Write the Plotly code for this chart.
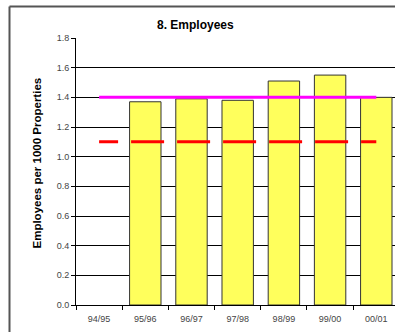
import plotly.graph_objects as go

categories = ["94/95", "95/96", "96/97", "97/98", "98/99", "99/00", "00/01"]
employees = [None, 1.37, 1.39, 1.38, 1.51, 1.55, 1.40]
target_line = [1.40] * 7
average_line = [1.10] * 7
y_ticks = [0.0, 0.2, 0.4, 0.6, 0.8, 1.0, 1.2, 1.4, 1.6, 1.8]

FONT = "Arial, Liberation Sans, sans-serif"

fig = go.Figure()
fig.add_trace(go.Bar(
    x=categories, y=employees,
    marker=dict(color="#FFFF5C", line=dict(color="#333333", width=1)),
    width=0.68, showlegend=False,
))
fig.add_trace(go.Scatter(
    x=categories, y=target_line, mode="lines",
    line=dict(color="#FF00FF", width=3), showlegend=False,
))
fig.add_trace(go.Scatter(
    x=categories, y=average_line, mode="lines",
    line=dict(color="#FF0000", width=3,
              dash="19px,13px,33px,13px,33px,13px,33px,13px,33px,13px,33px,13px,33px,13px"),
    showlegend=False,
))

fig.update_layout(
    width=395, height=332,
    margin=dict(l=76, r=0, t=38, b=27),
    paper_bgcolor="white", plot_bgcolor="white",
    font=dict(family=FONT, size=9, color="#333333"),
    xaxis=dict(
        type="category", range=[-0.5, 6.405],
        showline=True, linecolor="#000000", linewidth=1,
        ticks="outside", ticklen=4, tickcolor="#000000",
        tickson="boundaries", showgrid=False,
        ticklabelstandoff=5,
        tickfont=dict(size=9, color="#444444"),
    ),
    yaxis=dict(
        range=[0, 1.8], tickvals=y_ticks, tickformat=".1f",
        showline=True, linecolor="#000000", linewidth=1,
        ticks="outside", ticklen=4, tickcolor="#000000",
        showgrid=True, gridcolor="#000000", gridwidth=1,
        zeroline=False,
        tickfont=dict(size=9, color="#444444"),
    ),
    annotations=[
        dict(text="<b>8. Employees</b>", xref="paper", yref="paper",
             x=(195.5 - 76) / 319, y=(305 - 25) / 267,
             xanchor="center", yanchor="middle", showarrow=False,
             font=dict(family=FONT, size=12, color="#000000")),
        dict(text="<b>Employees per 1000 Properties</b>", xref="paper", yref="paper",
             x=(36 - 76) / 319, y=(305 - 163.5) / 267, textangle=-90,
             xanchor="center", yanchor="middle", showarrow=False,
             font=dict(family=FONT, size=11.5, color="#000000")),
    ],
    shapes=[
        dict(type="line", xref="paper", yref="paper",
             x0=(9.5 - 76) / 319, x1=(9.5 - 76) / 319,
             y0=(305 - 6.5) / 267, y1=(305 - 345) / 267,
             line=dict(color="#555555", width=2)),
        dict(type="line", xref="paper", yref="paper",
             x0=(9.5 - 76) / 319, x1=1.1,
             y0=(305 - 6.5) / 267, y1=(305 - 6.5) / 267,
             line=dict(color="#555555", width=2)),
    ],
)

fig.write_html("out.html")
